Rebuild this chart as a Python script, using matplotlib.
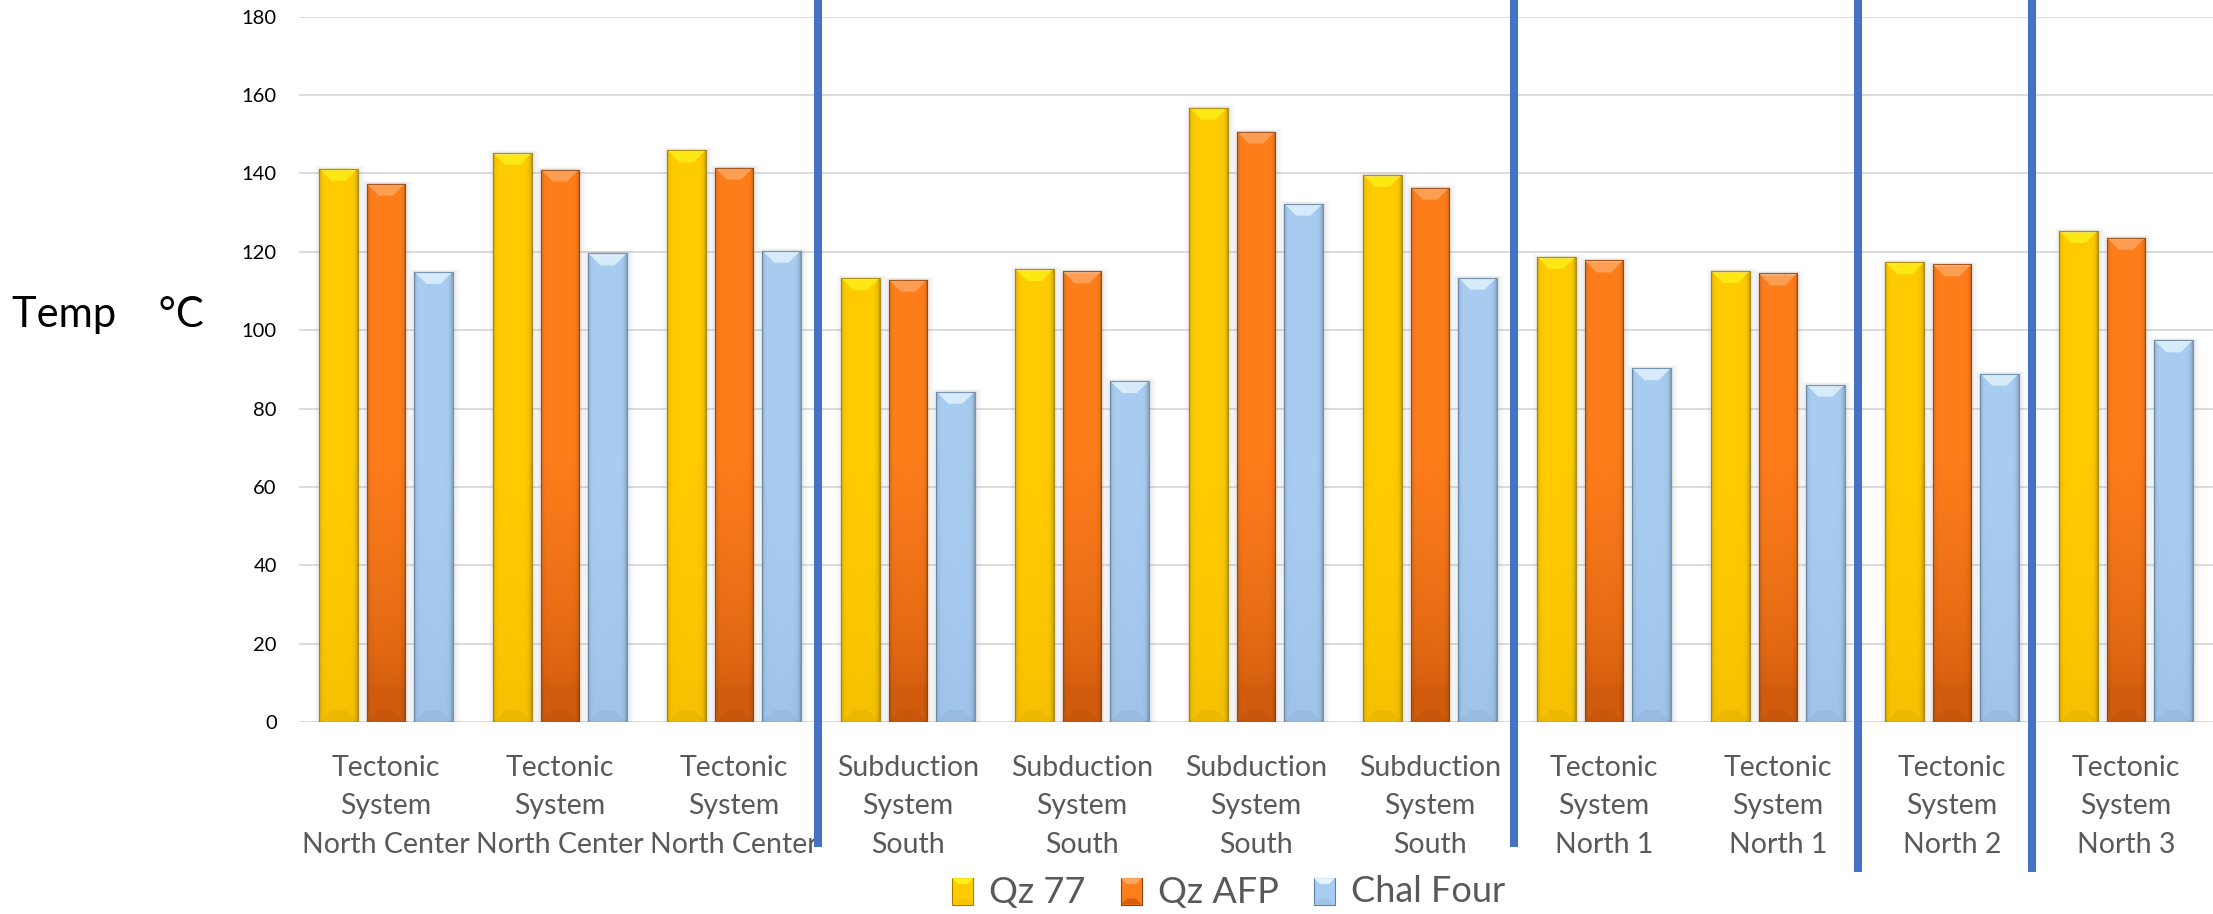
import numpy as np
import matplotlib
matplotlib.use("Agg")
import matplotlib.pyplot as plt
from matplotlib.patches import Polygon, Rectangle
from matplotlib.colors import to_rgb
from matplotlib.legend_handler import HandlerBase
import matplotlib.transforms as mtransforms

# ---- data -------------------------------------------------------------
categories = (["Tectonic\nSystem\nNorth Center"] * 3
              + ["Subduction\nSystem\nSouth"] * 4
              + ["Tectonic\nSystem\nNorth 1"] * 2
              + ["Tectonic\nSystem\nNorth 2", "Tectonic\nSystem\nNorth 3"])
series_names = ["Qz 77", "Qz AFP", "Chal Four"]
qz77 = [141.2, 145.2, 145.9, 113.3, 115.6, 156.8, 139.6, 118.7, 115.1, 117.3, 125.3]
qz_afp = [137.4, 141.0, 141.5, 112.9, 115.0, 150.7, 136.4, 117.8, 114.5, 116.8, 123.6]
chal_four = [114.9, 119.6, 120.3, 84.3, 87.0, 132.3, 113.4, 90.3, 86.1, 88.9, 97.4]
y_ticks = [0, 20, 40, 60, 80, 100, 120, 140, 160, 180]
# group separators (between category slots) and how far below the axis they reach
separators = [2.48, 6.48, 8.46, 9.46]
separator_bottoms = [-0.177, -0.177, -0.213, -0.213]

# ---- styling ----------------------------------------------------------
# (top colour, bottom colour, bevel highlight, outline)
palettes = [
    ("#FFCC00", "#F7C200", "#FFF01A", "#9C7A00"),
    ("#FF7E1C", "#D25C0E", "#FFA760", "#8E420C"),
    ("#A9CDF1", "#A0C4EA", "#E2F4FF", "#5F7F9E"),
]

FONT = ["Lato", "DejaVu Sans"]
plt.rcParams["font.family"] = FONT

W_PX, H_PX = 2213, 914
fig = plt.figure(figsize=(W_PX / 100, H_PX / 100), dpi=100)
ax = fig.add_axes([299 / W_PX, 192 / H_PX, 1914 / W_PX, 705.3 / H_PX])

x = np.arange(len(categories))
bar_w = 0.22
step = 0.273
x_lim = (-0.5, len(categories) - 0.5)
y_lim = (0, 180)

px_per_x = 1914 / (x_lim[1] - x_lim[0])
px_per_y = 705.3 / (y_lim[1] - y_lim[0])


def mix(c1, c2, t):
    c1, c2 = np.array(to_rgb(c1)), np.array(to_rgb(c2))
    return c1 + (c2 - c1) * t


def shade_bar(patch, pal):
    x0 = patch.get_x()
    w = patch.get_width()
    h = patch.get_height()
    top_c, bot_c, hi_c, edge_c = pal

    # soft drop shadow
    for k, a in [(7, 0.035), (5, 0.045), (3, 0.06)]:
        dx = k / px_per_x
        dy = k / px_per_y
        ax.add_patch(Rectangle((x0 - dx * 0.6, 0), w + dx * 1.6, h + dy * 0.4,
                               facecolor="#7f7f7f", edgecolor="none",
                               alpha=a, zorder=2.5))

    # body with vertical lighting and darker side edges
    ny, nx = 220, 48
    ys = np.linspace(h, 0, ny)
    t = np.clip((ys - 8) / 62.0, 0, 1) ** 0.6
    col = np.array([mix(bot_c, top_c, ti) for ti in t])
    u = np.linspace(0, 1, nx)
    side = 1 - 0.14 * np.exp(-u / 0.05) - 0.22 * np.exp(-(1 - u) / 0.05)
    img = col[:, None, :] * side[None, :, None]
    im = ax.imshow(np.clip(img, 0, 1), extent=[x0, x0 + w, 0, h], origin="upper",
                   aspect="auto", interpolation="bilinear", zorder=3)
    im.set_clip_path(patch)

    # bevel at the top: light trapezoid
    bh = 12 / px_per_y
    bd = 12 / px_per_x
    if h > bh * 2:
        ax.add_patch(Polygon([(x0, h), (x0 + w, h), (x0 + w - bd, h - bh), (x0 + bd, h - bh)],
                             closed=True, facecolor=hi_c, edgecolor="none", alpha=0.8, zorder=3.2))
        ax.add_patch(Polygon([(x0, h), (x0 + w, h), (x0 + w - bd * 0.15, h - bh * 0.15),
                              (x0 + bd * 0.15, h - bh * 0.15)],
                             closed=True, facecolor="white", edgecolor="none", alpha=0.35, zorder=3.3))
        # bevel at the base
        ax.add_patch(Polygon([(x0, 0), (x0 + w, 0), (x0 + w - bd, bh), (x0 + bd, bh)],
                             closed=True, facecolor="black", edgecolor="none", alpha=0.04, zorder=3.2))
    ax.add_patch(Rectangle((x0, 0), w, h, facecolor="none", edgecolor=edge_c,
                           linewidth=0.9, alpha=0.8, zorder=3.4))


all_series = [qz77, qz_afp, chal_four]
for i, (vals, pal) in enumerate(zip(all_series, palettes)):
    bars = ax.bar(x + (i - 1) * step, vals, width=bar_w, color=pal[0],
                  edgecolor="none", zorder=3, label=series_names[i])
    for p in bars.patches:
        shade_bar(p, pal)

# ---- axes -------------------------------------------------------------
ax.set_xlim(*x_lim)
ax.set_ylim(*y_lim)
ax.set_aspect("auto")
ax.set_yticks(y_ticks)
ax.set_yticklabels([str(v) for v in y_ticks], fontsize=14.5, color="#000000")
ax.set_xticks(x)
ax.set_xticklabels(categories, fontsize=20.5, color="#595959", linespacing=1.6)
ax.tick_params(axis="both", length=0)
ax.tick_params(axis="y", pad=16)
ax.tick_params(axis="x", pad=23.5)
ax.grid(axis="y", color="#D9D9D9", linewidth=1.3, zorder=0)
ax.set_axisbelow(True)
for s in ax.spines.values():
    s.set_visible(False)

# group separators
trans = mtransforms.blended_transform_factory(ax.transData, ax.transAxes)
for xs, yb in zip(separators, separator_bottoms):
    ax.plot([xs, xs], [yb, 1.03], transform=trans, color="#4472C4",
            linewidth=5.8, solid_capstyle="butt", clip_on=False, zorder=5)

fig.text(12 / W_PX, (914 - 327) / H_PX, "Temp    \u00b0C", fontsize=30,
         color="#000000", ha="left", va="baseline")


# ---- legend with bevelled swatches --------------------------------------
class BevelHandler(HandlerBase):
    def __init__(self, pal):
        super().__init__()
        self.pal = pal

    def create_artists(self, legend, orig_handle, xdescent, ydescent,
                       width, height, fontsize, trans):
        top_c, bot_c, hi_c, edge_c = self.pal
        s = min(width, height * 1.0)
        x0 = -xdescent + (width - s) / 2
        y0 = -ydescent + (height - s) / 2 - 1
        w, h = s * 0.8, s
        x0 += (s - w) / 2
        body = Rectangle((x0, y0), w, h, facecolor=top_c, edgecolor=edge_c,
                         linewidth=0.8, transform=trans)
        d = w * 0.28
        top = Polygon([(x0, y0 + h), (x0 + w, y0 + h), (x0 + w - d, y0 + h - d), (x0 + d, y0 + h - d)],
                      closed=True, facecolor=hi_c, edgecolor="none", transform=trans)
        bot = Polygon([(x0, y0), (x0 + w, y0), (x0 + w - d, y0 + d), (x0 + d, y0 + d)],
                      closed=True, facecolor=bot_c, edgecolor="none", alpha=0.9, transform=trans)
        return [body, top, bot]


handles = [Rectangle((0, 0), 1, 1) for _ in series_names]
leg = fig.legend(handles, series_names, loc="center",
                 bbox_to_anchor=(1227 / W_PX, (914 - 892) / H_PX),
                 ncol=3, frameon=False, fontsize=26,
                 handlelength=0.75, handleheight=0.75,
                 handletextpad=0.35, columnspacing=0.9,
                 handler_map={h: BevelHandler(p) for h, p in zip(handles, palettes)})
for t in leg.get_texts():
    t.set_color("#595959")

fig.savefig("out.png", dpi=100)
